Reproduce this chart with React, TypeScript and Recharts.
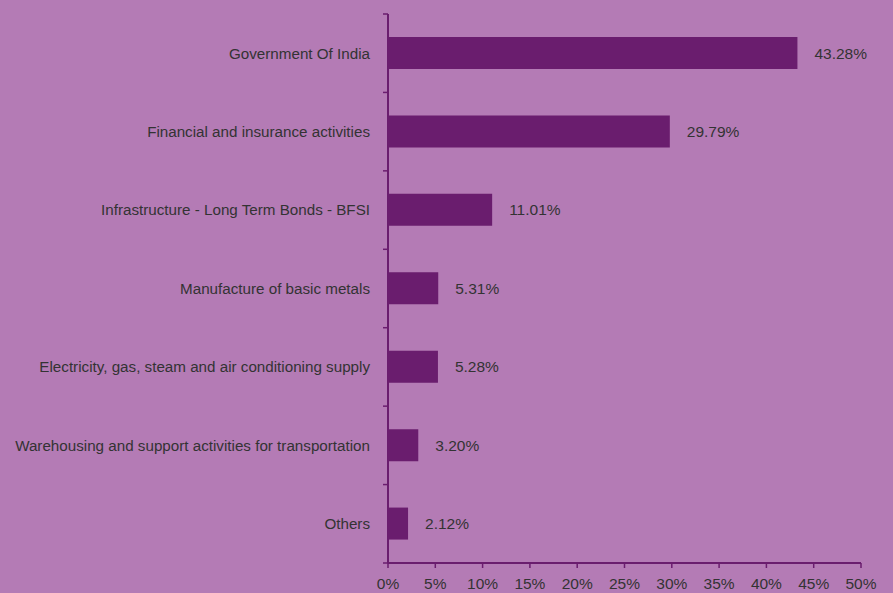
import React from "react";
import { BarChart, Bar, XAxis, YAxis, LabelList } from "recharts";

const categories = [
  "Government Of India",
  "Financial and insurance activities",
  "Infrastructure - Long Term Bonds - BFSI",
  "Manufacture of basic metals",
  "Electricity, gas, steam and air conditioning supply",
  "Warehousing and support activities for transportation",
  "Others",
];
const values = [43.28, 29.79, 11.01, 5.31, 5.28, 3.2, 2.12];
const xTicks = [0, 5, 10, 15, 20, 25, 30, 35, 40, 45, 50];

const data = categories.map((name, i) => ({ name, value: values[i] }));

const BG = "#b47bb5";
const DARK = "#6a1d6e";
const TEXT = "#333333";
const FONT = "'Liberation Sans', Arial, sans-serif";

const YTick = (props: any) => {
  const { x, y, payload, index } = props;
  const half = payload && payload.offset ? payload.offset : 39.2;
  const axisX = x + 13 + 5;
  return (
    <g>
      <line x1={axisX - 5} x2={axisX} y1={y - half} y2={y - half} stroke={DARK} strokeWidth={1.5} />
      {index === categories.length - 1 && (
        <line x1={axisX - 5} x2={axisX} y1={y + half} y2={y + half} stroke={DARK} strokeWidth={1.5} />
      )}
      <text x={x} y={y} dy="0.355em" textAnchor="end" fill={TEXT} fontSize={15.2} fontFamily={FONT}>
        {payload.value}
      </text>
    </g>
  );
};

export default function App() {
  return (
    <div style={{ position: "fixed", left: 0, top: 0, width: 893, height: 593, background: BG }}>
      <BarChart
        width={893}
        height={593}
        data={data}
        layout="vertical"
        margin={{ top: 14, right: 32, left: 0, bottom: 0 }}
      >
        <XAxis
          type="number"
          domain={[0, 50]}
          ticks={xTicks}
          tickFormatter={(v: number) => `${v}%`}
          height={30}
          axisLine={{ stroke: DARK, strokeWidth: 2 }}
          tickLine={{ stroke: DARK, strokeWidth: 1.5 }}
          tickSize={5}
          tickMargin={10}
          tick={{ fill: TEXT, fontSize: 15.5, fontFamily: FONT }}
          interval={0}
        />
        <YAxis
          type="category"
          dataKey="name"
          width={388}
          axisLine={{ stroke: DARK, strokeWidth: 2 }}
          tickLine={false}
          tickSize={5}
          tickMargin={13}
          tick={<YTick />}
          interval={0}
        />
        <Bar dataKey="value" fill={DARK} barSize={32} isAnimationActive={false}>
          <LabelList
            dataKey="value"
            position="right"
            offset={17}
            formatter={(v: number) => `${v.toFixed(2)}%`}
            fill={TEXT}
            fontSize={15.5}
            fontFamily={FONT}
          />
        </Bar>
      </BarChart>
    </div>
  );
}
